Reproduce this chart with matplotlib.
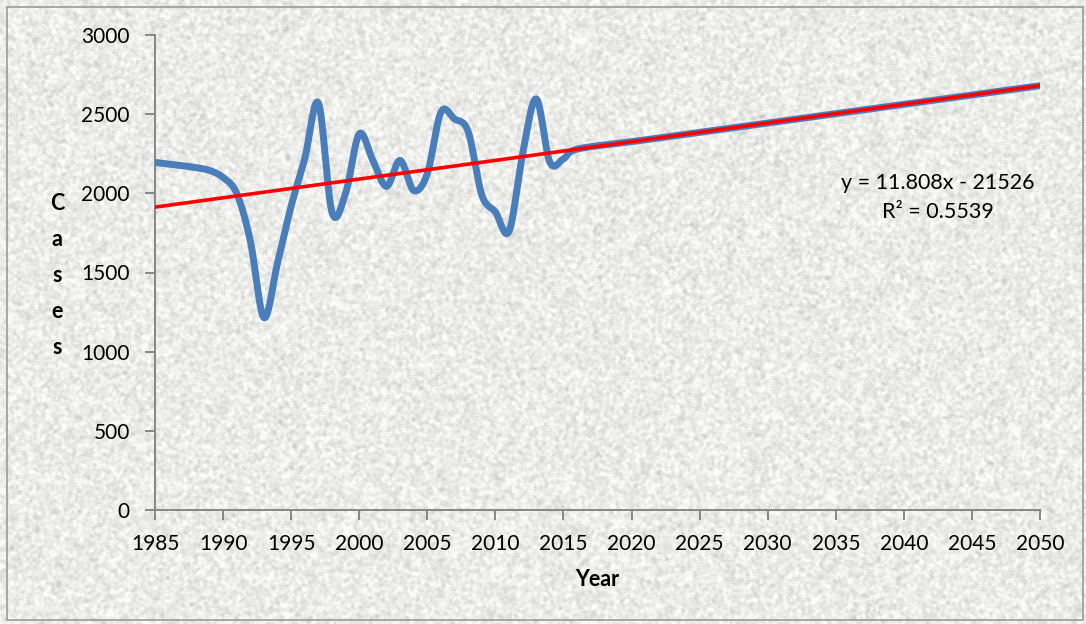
import numpy as np
import matplotlib
matplotlib.use("Agg")
import matplotlib.pyplot as plt
from matplotlib.patches import Rectangle

plt.rcParams['font.family'] = ['Lato', 'DejaVu Sans']

# Observed cases per year
years = [1985, 1986, 1987, 1988, 1989, 1990, 1991, 1992, 1993, 1994,
         1995, 1996, 1997, 1998, 1999, 2000, 2001, 2002, 2003, 2004,
         2005, 2006, 2007, 2008, 2009, 2010, 2011, 2012, 2013, 2014, 2015]
cases = [2195, 2185, 2175, 2162, 2145, 2100, 2000, 1700, 1215, 1560,
         1920, 2220, 2570, 1880, 2000, 2375, 2208, 2044, 2208, 2018,
         2124, 2512, 2470, 2390, 1990, 1882, 1760, 2250, 2596, 2197, 2218]

# Projected cases
forecast_years = [2016, 2020, 2025, 2030, 2035, 2040, 2045, 2050]
forecast_cases = [2279, 2326, 2385, 2444, 2503, 2562, 2621, 2680]

# Linear trend: y = slope * x + intercept
slope = 11.808
intercept = -21526
r_squared = 0.5539

x_ticks = list(range(1985, 2051, 5))
y_ticks = list(range(0, 3001, 500))

W, H = 1086, 624
fig = plt.figure(figsize=(W / 100, H / 100), dpi=100)

# Granite-style paper background
rng = np.random.default_rng(7)
noise = rng.normal(size=(H + 20, W + 20))
def box_blur(a, k):
    kern = np.ones(k) / k
    a = np.apply_along_axis(lambda r: np.convolve(r, kern, mode='same'), 1, a)
    a = np.apply_along_axis(lambda c: np.convolve(c, kern, mode='same'), 0, a)
    return a
tex = box_blur(noise, 4)[10:-10, 10:-10]
tex = (tex - tex.mean()) / tex.std()
gray = np.clip(0.925 + 0.035 * tex, 0.78, 0.99)
rgb = np.dstack([gray, gray, gray * 0.99])
fig.figimage(rgb, xo=0, yo=0, zorder=-10)

fig.patches.append(Rectangle((7 / W, 4 / H), (1083 - 7) / W, (617 - 4) / H,
                             transform=fig.transFigure, fill=False,
                             edgecolor='#9a9a9a', linewidth=1.2, zorder=-5))

left, right, top, bottom = 155, 1040, 35, 510
ax = fig.add_axes([left / W, 1 - bottom / H, (right - left) / W, (bottom - top) / H])
ax.set_facecolor('none')
ax.set_zorder(2)
ax.set_xlim(1985, 2050)
ax.set_ylim(0, 3000)


def smooth(xs, ys, sx, sy, n=30):
    """Catmull-Rom style Bezier smoothing in screen-proportional space."""
    P = np.column_stack([np.asarray(xs, float) * sx, np.asarray(ys, float) * sy])
    out = [P[0]]
    for i in range(len(P) - 1):
        p0 = P[i - 1] if i > 0 else P[i]
        p1, p2 = P[i], P[i + 1]
        p3 = P[i + 2] if i + 2 < len(P) else P[i + 1]
        c1 = p1 + (p2 - p0) / 6.0
        c2 = p2 - (p3 - p1) / 6.0
        t = np.linspace(0, 1, n)[1:, None]
        seg = ((1 - t) ** 3) * p1 + 3 * ((1 - t) ** 2) * t * c1 + 3 * (1 - t) * t ** 2 * c2 + t ** 3 * p2
        out.extend(seg)
    out = np.array(out)
    return out[:, 0] / sx, out[:, 1] / sy


all_x = years + forecast_years
all_y = cases + forecast_cases
sx = (right - left) / 65.0
sy = (bottom - top) / 3000.0
cx, cy = smooth(all_x, all_y, sx, sy)
ax.plot(cx, cy, color='#4a7ebb', linewidth=5.0, solid_capstyle='round',
        solid_joinstyle='round', zorder=3)

tx = np.array([1985, 2050])
ax.plot(tx, slope * tx + intercept, color='#ff0000', linewidth=2.6, zorder=4)

for s in ['top', 'right']:
    ax.spines[s].set_visible(False)
for s in ['left', 'bottom']:
    ax.spines[s].set_color('#868686')
    ax.spines[s].set_linewidth(1.4)

ax.set_xticks(x_ticks)
ax.set_yticks(y_ticks)
ax.set_xticklabels([str(v) for v in x_ticks])
ax.set_yticklabels([str(v) for v in y_ticks])
ax.tick_params(axis='both', colors='#868686', labelcolor='black', labelsize=15,
               length=7, width=1.4, direction='out')
ax.tick_params(axis='x', pad=10)
ax.tick_params(axis='y', pad=11)

fig.text(938 / W, 1 - 183 / H, f"y = {slope}x - {abs(intercept)}",
         ha='center', va='center', fontsize=15.5)
fig.text(938 / W, 1 - 212 / H, f"R\u00b2 = {r_squared}",
         ha='center', va='center', fontsize=15.5)

fig.text(597 / W, 1 - 580 / H, "Year", ha='center', va='center',
         fontsize=15.5, fontweight='bold')
for i, ch in enumerate("Cases"):
    fig.text(57 / W, 1 - (204 + i * 36) / H, ch, ha='center', va='center',
             fontsize=15.5, fontweight='bold')

fig.savefig("out.png", dpi=100)
